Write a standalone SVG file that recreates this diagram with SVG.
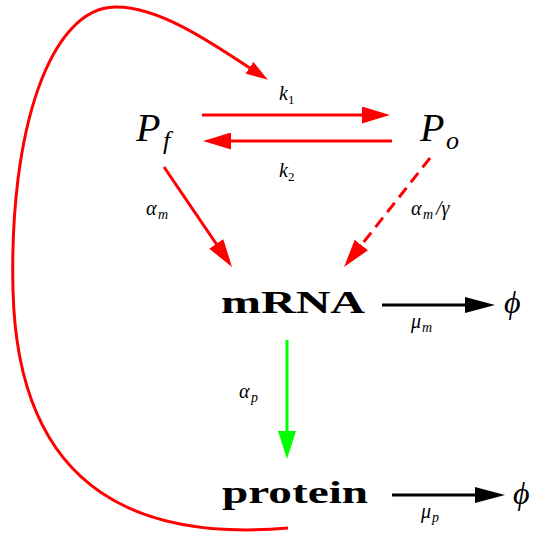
<svg xmlns="http://www.w3.org/2000/svg" width="538" height="534" viewBox="0 0 538 534">
<style>
.m{font-family:"Liberation Serif","DejaVu Serif",serif;font-style:italic;fill:#000}
.r{font-family:"Liberation Serif","DejaVu Serif",serif;fill:#000}
.b{font-family:"Liberation Serif","DejaVu Serif",serif;font-weight:bold;fill:#000;font-size:32px}
.red{stroke:#ff0000;stroke-width:3;fill:none}
.grn{stroke:#00ff00;stroke-width:3;fill:none}
.blk{stroke:#000;stroke-width:3;fill:none}
</style>
<defs>
<marker id="ar" markerUnits="userSpaceOnUse" markerWidth="28" markerHeight="17" refX="20" refY="8.5" orient="auto"><path d="M0,0 L28,8.5 L0,17 z" fill="#ff0000"/></marker>
<marker id="ars" markerUnits="userSpaceOnUse" markerWidth="22" markerHeight="14" refX="15" refY="7" orient="auto"><path d="M0,0 L22,7 L0,14 z" fill="#ff0000"/></marker>
<marker id="ag" markerUnits="userSpaceOnUse" markerWidth="28" markerHeight="18" refX="20" refY="9" orient="auto"><path d="M0,0 L28,9 L0,18 z" fill="#00ff00"/></marker>
<marker id="ab" markerUnits="userSpaceOnUse" markerWidth="30" markerHeight="16" refX="22" refY="8" orient="auto"><path d="M0,0 L30,8 L0,16 z" fill="#000"/></marker>
</defs>
<g id="connectors">
<line class="red" x1="202" y1="115" x2="382" y2="115" marker-end="url(#ar)"/>
<line class="red" x1="392" y1="141" x2="211" y2="141" marker-end="url(#ar)"/>
<line class="red" x1="164" y1="167" x2="227.5" y2="260.4" marker-end="url(#ar)"/>
<line class="red" x1="430" y1="158" x2="349" y2="260.7" stroke-dasharray="12,7" marker-end="url(#ar)"/>
<line class="blk" x1="382" y1="305" x2="487" y2="305" marker-end="url(#ab)"/>
<line class="grn" x1="287" y1="340" x2="287" y2="451" marker-end="url(#ag)"/>
<line class="blk" x1="392" y1="495" x2="497" y2="495" marker-end="url(#ab)"/>
<path class="red" d="M288,528 C150,540 18,500 13,290 C9,130 50,8 115,7 C160,6 215,45 262,76" marker-end="url(#ars)"/>
</g>
<g id="Pf"><text class="m" x="136" y="141" font-size="40">P</text><text class="m" x="163" y="149" font-size="26">f</text></g>
<g id="Po"><text class="m" x="420" y="141" font-size="40">P</text><text class="m" x="446" y="149" font-size="26">o</text></g>
<g id="mRNA"><text class="b" x="221" y="313" textLength="144" lengthAdjust="spacingAndGlyphs">mRNA</text></g>
<g id="protein"><text class="b" x="222" y="503" textLength="146" lengthAdjust="spacingAndGlyphs">protein</text></g>
<g id="phi1"><text class="m" x="504" y="313" font-size="32">ϕ</text></g>
<g id="phi2"><text class="m" x="513" y="504" font-size="32">ϕ</text></g>
<g id="labels">
<text class="m" x="279" y="100" font-size="20">k</text><text class="r" x="288" y="104" font-size="13">1</text>
<text class="m" x="279" y="177" font-size="20">k</text><text class="r" x="288" y="181" font-size="13">2</text>
<text class="m" x="146" y="215" font-size="20">α</text><text class="m" x="158" y="219" font-size="14">m</text>
<text class="m" x="411" y="215" font-size="20">α</text><text class="m" x="423" y="219" font-size="14">m</text><text class="m" x="436" y="215" font-size="20">/γ</text>
<text class="m" x="239" y="398" font-size="20">α</text><text class="m" x="251" y="402" font-size="14">p</text>
<text class="m" x="411" y="328" font-size="20">μ</text><text class="m" x="422" y="332" font-size="14">m</text>
<text class="m" x="421" y="518" font-size="20">μ</text><text class="m" x="432" y="522" font-size="14">p</text>
</g>
</svg>
